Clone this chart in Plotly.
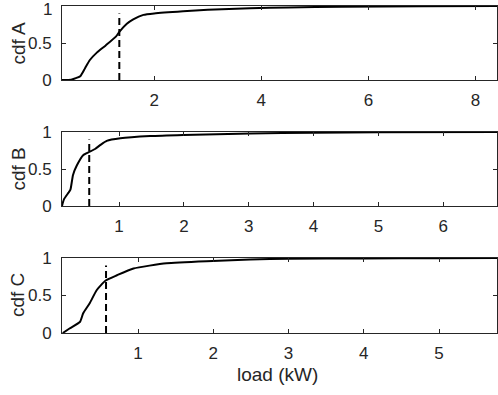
import plotly.graph_objects as go

# ---- data ----
A_x = [0.28, 0.45, 0.52, 0.62, 0.71, 0.80, 0.93, 1.10, 1.29, 1.35, 1.49, 1.61, 1.80, 2.0, 2.54, 3.0, 3.79, 4.5, 5.5, 7.0, 8.4]
A_y = [0.0, 0.005, 0.02, 0.05, 0.16, 0.27, 0.37, 0.47, 0.59, 0.65, 0.76, 0.82, 0.88, 0.90, 0.93, 0.95, 0.97, 0.98, 0.99, 0.997, 1.0]

B_x = [0.12, 0.15, 0.22, 0.25, 0.29, 0.35, 0.45, 0.54, 0.63, 0.72, 0.81, 1.02, 1.48, 1.99, 3.02, 4.0, 5.0, 6.83]
B_y = [0.0, 0.09, 0.18, 0.22, 0.42, 0.55, 0.69, 0.73, 0.77, 0.83, 0.88, 0.915, 0.945, 0.96, 0.98, 0.99, 0.995, 1.0]

C_x = [0.0, 0.09, 0.23, 0.27, 0.36, 0.45, 0.57, 0.72, 0.94, 1.38, 1.99, 2.49, 3.0, 4.0, 5.0, 5.77]
C_y = [0.0, 0.06, 0.15, 0.26, 0.40, 0.57, 0.70, 0.77, 0.86, 0.93, 0.96, 0.98, 0.99, 0.995, 0.998, 1.0]

marker_x = [1.35, 0.54, 0.575]   # dashed vertical markers
marker_y = [0.0, 0.9]

x_ranges = [[0.28, 8.4], [0.12, 6.83], [-0.01, 5.77]]
x_ticks = [[2, 4, 6, 8], [1, 2, 3, 4, 5, 6], [1, 2, 3, 4, 5]]
y_ticks = [0, 0.5, 1]
y_ticktext = ["0", "0.5", "1"]
y_labels = ["cdf A", "cdf B", "cdf C"]
x_label = "load (kW)"

series = [(A_x, A_y), (B_x, B_y), (C_x, C_y)]

W, H = 498, 395
ml, mr, mt, mb = 62, 1, 6, 62
ph = H - mt - mb
pw = W - ml - mr
# panel pixel extents (top, bottom)
panels_px = [(6, 80), (132, 206), (258, 333)]
domains = [[(H - mb - b) / ph, (H - mb - t) / ph] for t, b in panels_px]

AX = "#262626"
FONT = "Liberation Sans, Arial, Helvetica, sans-serif"

fig = go.Figure()
for i, (xs, ys) in enumerate(series):
    n = "" if i == 0 else str(i + 1)
    fig.add_trace(go.Scatter(x=xs, y=ys, mode="lines",
                             line=dict(color="black", width=2, shape="spline", smoothing=0.5),
                             xaxis="x" + n, yaxis="y" + n, showlegend=False, hoverinfo="skip"))
    fig.add_trace(go.Scatter(x=[marker_x[i], marker_x[i]], y=marker_y, mode="lines",
                             line=dict(color="black", width=2, dash="7px,4px"),
                             xaxis="x" + n, yaxis="y" + n, showlegend=False, hoverinfo="skip"))
    common = dict(showline=True, linecolor=AX, linewidth=1, mirror="ticks", ticks="inside",
                  ticklen=4, tickcolor=AX, tickwidth=1, showgrid=False, zeroline=False,
                  ticklabeloverflow="allow",
                  tickfont=dict(family=FONT, size=17, color=AX))
    # top panel: the "1" label sits right at the figure edge, draw it as an annotation nudged down
    ttext = list(y_ticktext) if i > 0 else y_ticktext[:2] + [""]
    fig.layout["xaxis" + n] = dict(range=x_ranges[i], tickvals=x_ticks[i], domain=[0, 1],
                                   anchor="y" + n, ticklabelstandoff=5, **common)
    fig.layout["yaxis" + n] = dict(range=[0, 1], tickvals=y_ticks, ticktext=ttext,
                                   domain=domains[i], anchor="x" + n, ticklabelstandoff=6, **common)
    yc = (domains[i][0] + domains[i][1]) / 2
    fig.add_annotation(text=y_labels[i], xref="paper", yref="paper", x=(17.5 - ml) / pw, y=yc,
                       xanchor="center", yanchor="middle", textangle=-90, showarrow=False,
                       font=dict(family=FONT, size=19, color=AX))

fig.add_annotation(text=y_ticktext[2], xref="paper", yref="y", x=0, y=y_ticks[2],
                   xanchor="right", yanchor="middle", xshift=-8, yshift=-3, showarrow=False,
                   font=dict(family=FONT, size=17, color=AX))

fig.add_annotation(text=x_label, xref="paper", yref="paper", x=(277 - ml) / pw, y=(H - mb - 374) / ph,
                   xanchor="center", yanchor="middle", showarrow=False,
                   font=dict(family=FONT, size=19, color=AX))

fig.update_layout(width=W, height=H, margin=dict(l=ml, r=mr, t=mt, b=mb, autoexpand=False),
                  paper_bgcolor="white", plot_bgcolor="white")
fig.write_html("out.html", config={"displayModeBar": False},
               post_script="document.body.style.margin='0';document.body.style.padding='0';")
